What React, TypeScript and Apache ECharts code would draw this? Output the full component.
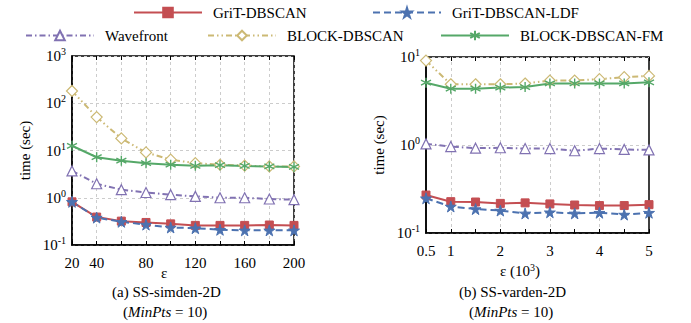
import React, { useEffect, useRef } from 'react';
import * as echarts from 'echarts';

// ---------- data ----------
const epsA = [20, 40, 60, 80, 100, 120, 140, 160, 180, 200];
const gritA = [0.82, 0.39, 0.32, 0.3, 0.28, 0.26, 0.26, 0.26, 0.265, 0.26];
const ldfA = [0.82, 0.38, 0.31, 0.27, 0.235, 0.227, 0.21, 0.204, 0.204, 0.204];
const waveA = [3.7, 1.98, 1.48, 1.29, 1.16, 1.07, 1.0, 1.0, 0.94, 0.91];
const blockA = [182, 51, 18, 9.1, 6.4, 5.4, 5.0, 4.8, 4.6, 4.6];
const fmA = [12.6, 7.2, 6.1, 5.4, 5.0, 4.75, 4.9, 4.7, 4.6, 4.5];

const epsB = [0.5, 1, 1.5, 2, 2.5, 3, 3.5, 4, 4.5, 5];
const gritB = [0.27, 0.227, 0.225, 0.217, 0.22, 0.214, 0.208, 0.205, 0.205, 0.21];
const ldfB = [0.248, 0.2, 0.187, 0.18, 0.167, 0.172, 0.167, 0.17, 0.162, 0.17];
const waveB = [1.03, 0.96, 0.92, 0.93, 0.91, 0.91, 0.86, 0.91, 0.89, 0.88];
const blockB = [9.1, 4.9, 4.9, 4.9, 5.0, 5.4, 5.4, 5.6, 5.9, 6.1];
const fmB = [5.1, 4.36, 4.36, 4.5, 4.55, 5.0, 5.0, 5.0, 5.0, 5.15];

const labelsA = [20, 40, 80, 120, 160, 200];
const labelsB = [0.5, 1, 2, 3, 4, 5];
const gridLinesB = [1, 2, 3, 4];

const names = ['GriT-DBSCAN', 'GriT-DBSCAN-LDF', 'Wavefront', 'BLOCK-DBSCAN', 'BLOCK-DBSCAN-FM'];

const FONT = "'Liberation Serif', serif";
const RED = '#C44E52';
const BLUE = '#4C72B0';
const PURPLE = '#8172B2';
const TAN = '#CCB974';
const GREEN = '#55A868';

const STAR = 'path://M50,0 L61,35 L98,35 L68,57 L79,91 L50,70 L21,91 L32,57 L2,35 L39,35 Z';
const ASTER = 'path://M5,0L5,10M0.7,2.5L9.3,7.5M0.7,7.5L9.3,2.5';

const styles: any = {
  'GriT-DBSCAN': {
    symbol: 'rect', symbolSize: 8,
    lineStyle: { color: RED, width: 2, type: 'solid' },
    itemStyle: { color: RED, borderColor: RED, borderWidth: 1 },
  },
  'GriT-DBSCAN-LDF': {
    symbol: STAR, symbolSize: 11,
    lineStyle: { color: BLUE, width: 2, type: [7, 4] },
    itemStyle: { color: BLUE, borderColor: BLUE, borderWidth: 1 },
  },
  'Wavefront': {
    symbol: 'triangle', symbolSize: 10,
    lineStyle: { color: PURPLE, width: 2, type: [6, 3, 1.5, 3] },
    itemStyle: { color: '#ffffff', borderColor: PURPLE, borderWidth: 1.2 },
  },
  'BLOCK-DBSCAN': {
    symbol: 'diamond', symbolSize: 11,
    lineStyle: { color: TAN, width: 2, type: [6, 3, 1.5, 3, 1.5, 3] },
    itemStyle: { color: '#ffffff', borderColor: TAN, borderWidth: 1.2 },
  },
  'BLOCK-DBSCAN-FM': {
    symbol: ASTER, symbolSize: 10,
    lineStyle: { color: GREEN, width: 2, type: 'solid' },
    itemStyle: { color: 'none', borderColor: GREEN, borderWidth: 1.4 },
  },
};

const supLabel = (v: number) => {
  const e = Math.round(Math.log10(v));
  return `{b|10}{s|${e}}`;
};
const supRich = {
  b: { fontSize: 15, fontFamily: FONT, color: '#000' },
  s: { fontSize: 10, fontFamily: FONT, color: '#000', verticalAlign: 'top', padding: [0, 0, 9, 0] },
};

export default function App() {
  const ref = useRef<HTMLDivElement>(null);
  useEffect(() => {
    if (!ref.current) return;
    const chart = echarts.init(ref.current, undefined, { renderer: 'svg' });

    const mk = (name: string, xs: number[], ys: number[], gi: number, extra: any = {}) => ({
      name,
      type: 'line',
      xAxisIndex: gi,
      yAxisIndex: gi,
      data: xs.map((x, i) => [x, ys[i]]),
      showSymbol: true,
      ...styles[name],
      ...extra,
    });

    const seriesA = [
      mk('BLOCK-DBSCAN', epsA, blockA, 0),
      mk('BLOCK-DBSCAN-FM', epsA, fmA, 0),
      mk('Wavefront', epsA, waveA, 0),
      mk('GriT-DBSCAN', epsA, gritA, 0),
      mk('GriT-DBSCAN-LDF', epsA, ldfA, 0),
    ];
    const seriesB = [
      mk('BLOCK-DBSCAN', epsB, blockB, 1, {
        markLine: {
          silent: true,
          symbol: 'none',
          label: { show: false },
          lineStyle: { color: '#cccccc', type: [3, 3], width: 1 },
          data: gridLinesB.map((x) => ({ xAxis: x })),
          z: 0,
        },
      }),
      mk('BLOCK-DBSCAN-FM', epsB, fmB, 1),
      mk('Wavefront', epsB, waveB, 1),
      mk('GriT-DBSCAN', epsB, gritB, 1),
      mk('GriT-DBSCAN-LDF', epsB, ldfB, 1),
    ];

    const legendPos: any = {
      'GriT-DBSCAN': [133, 5],
      'GriT-DBSCAN-LDF': [372, 5],
      'Wavefront': [25, 28],
      'BLOCK-DBSCAN': [207, 28],
      'BLOCK-DBSCAN-FM': [440, 28],
    };

    const baseX = {
      axisLine: { show: true, lineStyle: { color: '#000', width: 1.5 } },
      axisTick: { show: true, inside: true, length: 4, lineStyle: { color: '#000', width: 1 } },
      splitLine: { show: false },
    };

    const option: any = {
      animation: false,
      textStyle: { fontFamily: FONT },
      legend: names.map((n) => ({
        data: [n],
        left: legendPos[n][0],
        top: legendPos[n][1],
        itemWidth: 68,
        itemHeight: 12,
        itemGap: 0,
        padding: 0,
        selectedMode: false,
        textStyle: { fontFamily: FONT, fontSize: 15, color: '#000', padding: [0, 0, 0, 6] },
      })),
      grid: [
        { left: 72, top: 56, width: 222, height: 189, show: true, borderColor: '#000', borderWidth: 1.5, containLabel: false },
        { left: 426, top: 57, width: 223, height: 176, show: true, borderColor: '#000', borderWidth: 1.5, containLabel: false },
      ],
      xAxis: [
        {
          type: 'value', gridIndex: 0, min: 20, max: 200, interval: 20,
          ...baseX,
          splitLine: { show: true, lineStyle: { color: '#cccccc', type: [3, 3], width: 1 } },
          axisLabel: {
            fontSize: 15, fontFamily: FONT, color: '#000', margin: 10,
            formatter: (v: number) => (labelsA.includes(v) ? String(v) : ''),
          },
        },
        {
          type: 'value', gridIndex: 1, min: 0.5, max: 5, interval: 0.5,
          ...baseX,
          axisLabel: {
            fontSize: 15, fontFamily: FONT, color: '#000', margin: 10,
            formatter: (v: number) => (labelsB.some((l) => Math.abs(l - v) < 1e-6) ? String(v) : ''),
          },
        },
        {
          type: 'value', gridIndex: 0, position: 'top', min: 20, max: 200, interval: 20,
          axisLine: { show: false }, axisLabel: { show: false }, splitLine: { show: false },
          axisTick: { show: true, inside: true, length: 4, lineStyle: { color: '#000' } },
        },
        {
          type: 'value', gridIndex: 1, position: 'top', min: 0.5, max: 5, interval: 0.5,
          axisLine: { show: false }, axisLabel: { show: false }, splitLine: { show: false },
          axisTick: { show: true, inside: true, length: 4, lineStyle: { color: '#000' } },
        },
      ],
      yAxis: [
        {
          type: 'log', logBase: 10, gridIndex: 0, min: 0.1, max: 1000,
          name: 'time (sec)', nameLocation: 'middle', nameGap: 40,
          nameTextStyle: { fontSize: 15, fontFamily: FONT, color: '#000' },
          axisLine: { show: true, lineStyle: { color: '#000', width: 1.5 } },
          axisTick: { show: false },
          splitLine: { show: true, lineStyle: { color: '#cccccc', type: [3, 3], width: 1 } },
          axisLabel: { formatter: supLabel, rich: supRich, margin: 6 },
        },
        {
          type: 'log', logBase: 10, gridIndex: 1, min: 0.1, max: 10,
          name: 'time (sec)', nameLocation: 'middle', nameGap: 40,
          nameTextStyle: { fontSize: 15, fontFamily: FONT, color: '#000' },
          axisLine: { show: true, lineStyle: { color: '#000', width: 1.5 } },
          axisTick: { show: false },
          splitLine: { show: true, lineStyle: { color: '#cccccc', type: [3, 3], width: 1 } },
          axisLabel: { formatter: supLabel, rich: supRich, margin: 6 },
        },
      ],
      series: [...seriesA, ...seriesB],
      graphic: [
        {
          type: 'text', left: 161, top: 265,
          style: { text: 'ε', fontSize: 15, fontFamily: FONT, fill: '#000' },
        },
        {
          type: 'text', left: 500, top: 262,
          style: {
            text: '{a|ε (10}{s|3}{a|)}',
            rich: {
              a: { fontSize: 15, fontFamily: FONT, fill: '#000' },
              s: { fontSize: 10, fontFamily: FONT, fill: '#000', verticalAlign: 'top', padding: [0, 0, 8, 0] },
            },
          },
        },
        {
          type: 'text', left: 112, top: 284,
          style: { text: '(a) SS-simden-2D', fontSize: 15, fontFamily: FONT, fill: '#000' },
        },
        {
          type: 'text', left: 123, top: 304,
          style: {
            text: '{a|(}{i|MinPts}{a| = 10)}',
            rich: {
              a: { fontSize: 15, fontFamily: FONT, fill: '#000' },
              i: { fontSize: 15, fontFamily: FONT, fontStyle: 'italic', fill: '#000' },
            },
          },
        },
        {
          type: 'text', left: 459, top: 284,
          style: { text: '(b) SS-varden-2D', fontSize: 15, fontFamily: FONT, fill: '#000' },
        },
        {
          type: 'text', left: 469, top: 304,
          style: {
            text: '{a|(}{i|MinPts}{a| = 10)}',
            rich: {
              a: { fontSize: 15, fontFamily: FONT, fill: '#000' },
              i: { fontSize: 15, fontFamily: FONT, fontStyle: 'italic', fill: '#000' },
            },
          },
        },
      ],
    };

    chart.setOption(option);
    return () => chart.dispose();
  }, []);

  return (
    <div
      ref={ref}
      style={{ position: 'fixed', left: 0, top: 0, width: 691, height: 323, background: '#fff' }}
    />
  );
}
